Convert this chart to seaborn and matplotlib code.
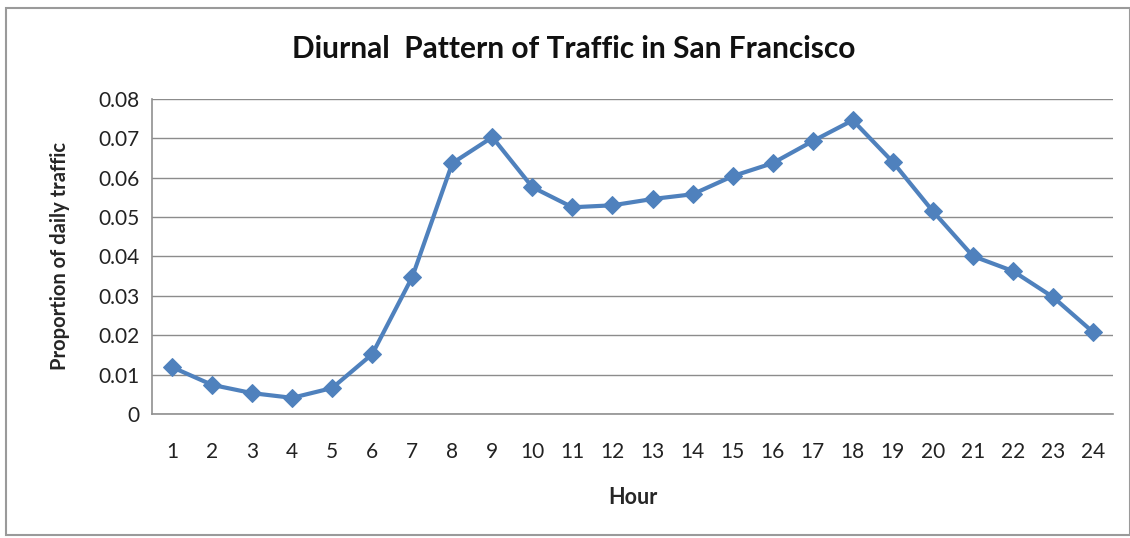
import matplotlib.pyplot as plt
import pandas as pd
import seaborn as sns
from matplotlib.patches import Rectangle
from matplotlib.ticker import FixedLocator

# Hourly share of daily traffic
hours = list(range(1, 25))
proportion = [
    0.0119, 0.0074, 0.0053, 0.0041, 0.0066, 0.0152, 0.0348, 0.0637,
    0.0703, 0.0576, 0.0525, 0.0530, 0.0546, 0.0558, 0.0604, 0.0637,
    0.0693, 0.0746, 0.0640, 0.0515, 0.0401, 0.0363, 0.0297, 0.0208,
]
y_ticks = [0, 0.01, 0.02, 0.03, 0.04, 0.05, 0.06, 0.07, 0.08]
y_tick_labels = ["0", "0.01", "0.02", "0.03", "0.04", "0.05", "0.06", "0.07", "0.08"]

df = pd.DataFrame({"Hour": hours, "Proportion": proportion})

sns.set_style("white")
plt.rcParams["font.family"] = ["Lato", "DejaVu Sans"]

fig = plt.figure(figsize=(11.3, 5.38), dpi=100)
ax = fig.add_axes([0.1345, 0.2305, 0.8505, 0.5855])

sns.lineplot(
    data=df, x="Hour", y="Proportion", ax=ax,
    color="#4F81BD", linewidth=3.0, marker="D", markersize=9.5,
    markeredgecolor="#4F81BD",
)

ax.set_xlim(0.5, 24.5)
ax.set_ylim(0, 0.08)
ax.set_yticks(y_ticks)
ax.set_yticklabels(y_tick_labels, fontsize=15, color="#222222")
ax.set_xticks(hours)
ax.set_xticklabels([str(h) for h in hours], fontsize=15, color="#222222")
ax.xaxis.set_minor_locator(FixedLocator([h + 0.5 for h in range(0, 25)]))
ax.tick_params(axis="x", which="major", length=0, pad=20)
ax.tick_params(axis="x", which="minor", length=5, color="#909090", width=1, direction="out")
ax.tick_params(axis="y", length=5, color="#909090", width=1, direction="out", pad=4)

ax.grid(axis="y", color="#8c8c8c", linewidth=1)
ax.set_axisbelow(True)
for side in ["top", "right"]:
    ax.spines[side].set_visible(False)
for side in ["left", "bottom"]:
    ax.spines[side].set_color("#909090")
    ax.spines[side].set_linewidth(1.2)

ax.set_xlabel("Hour", fontsize=15.5, fontweight="bold", labelpad=18)
ax.set_ylabel("Proportion of daily traffic", fontsize=14.5, fontweight="bold", labelpad=20)
fig.suptitle("Diurnal  Pattern of Traffic in San Francisco", fontsize=21.5, fontweight="bold",
             y=0.935, x=0.508, color="#111111")

# outer chart frame
fig.patches.append(Rectangle((0.005, 0.005), 0.995, 0.98, transform=fig.transFigure,
                             fill=False, edgecolor="#9a9a9a", linewidth=1.5))

fig.savefig("out.png", dpi=100)
